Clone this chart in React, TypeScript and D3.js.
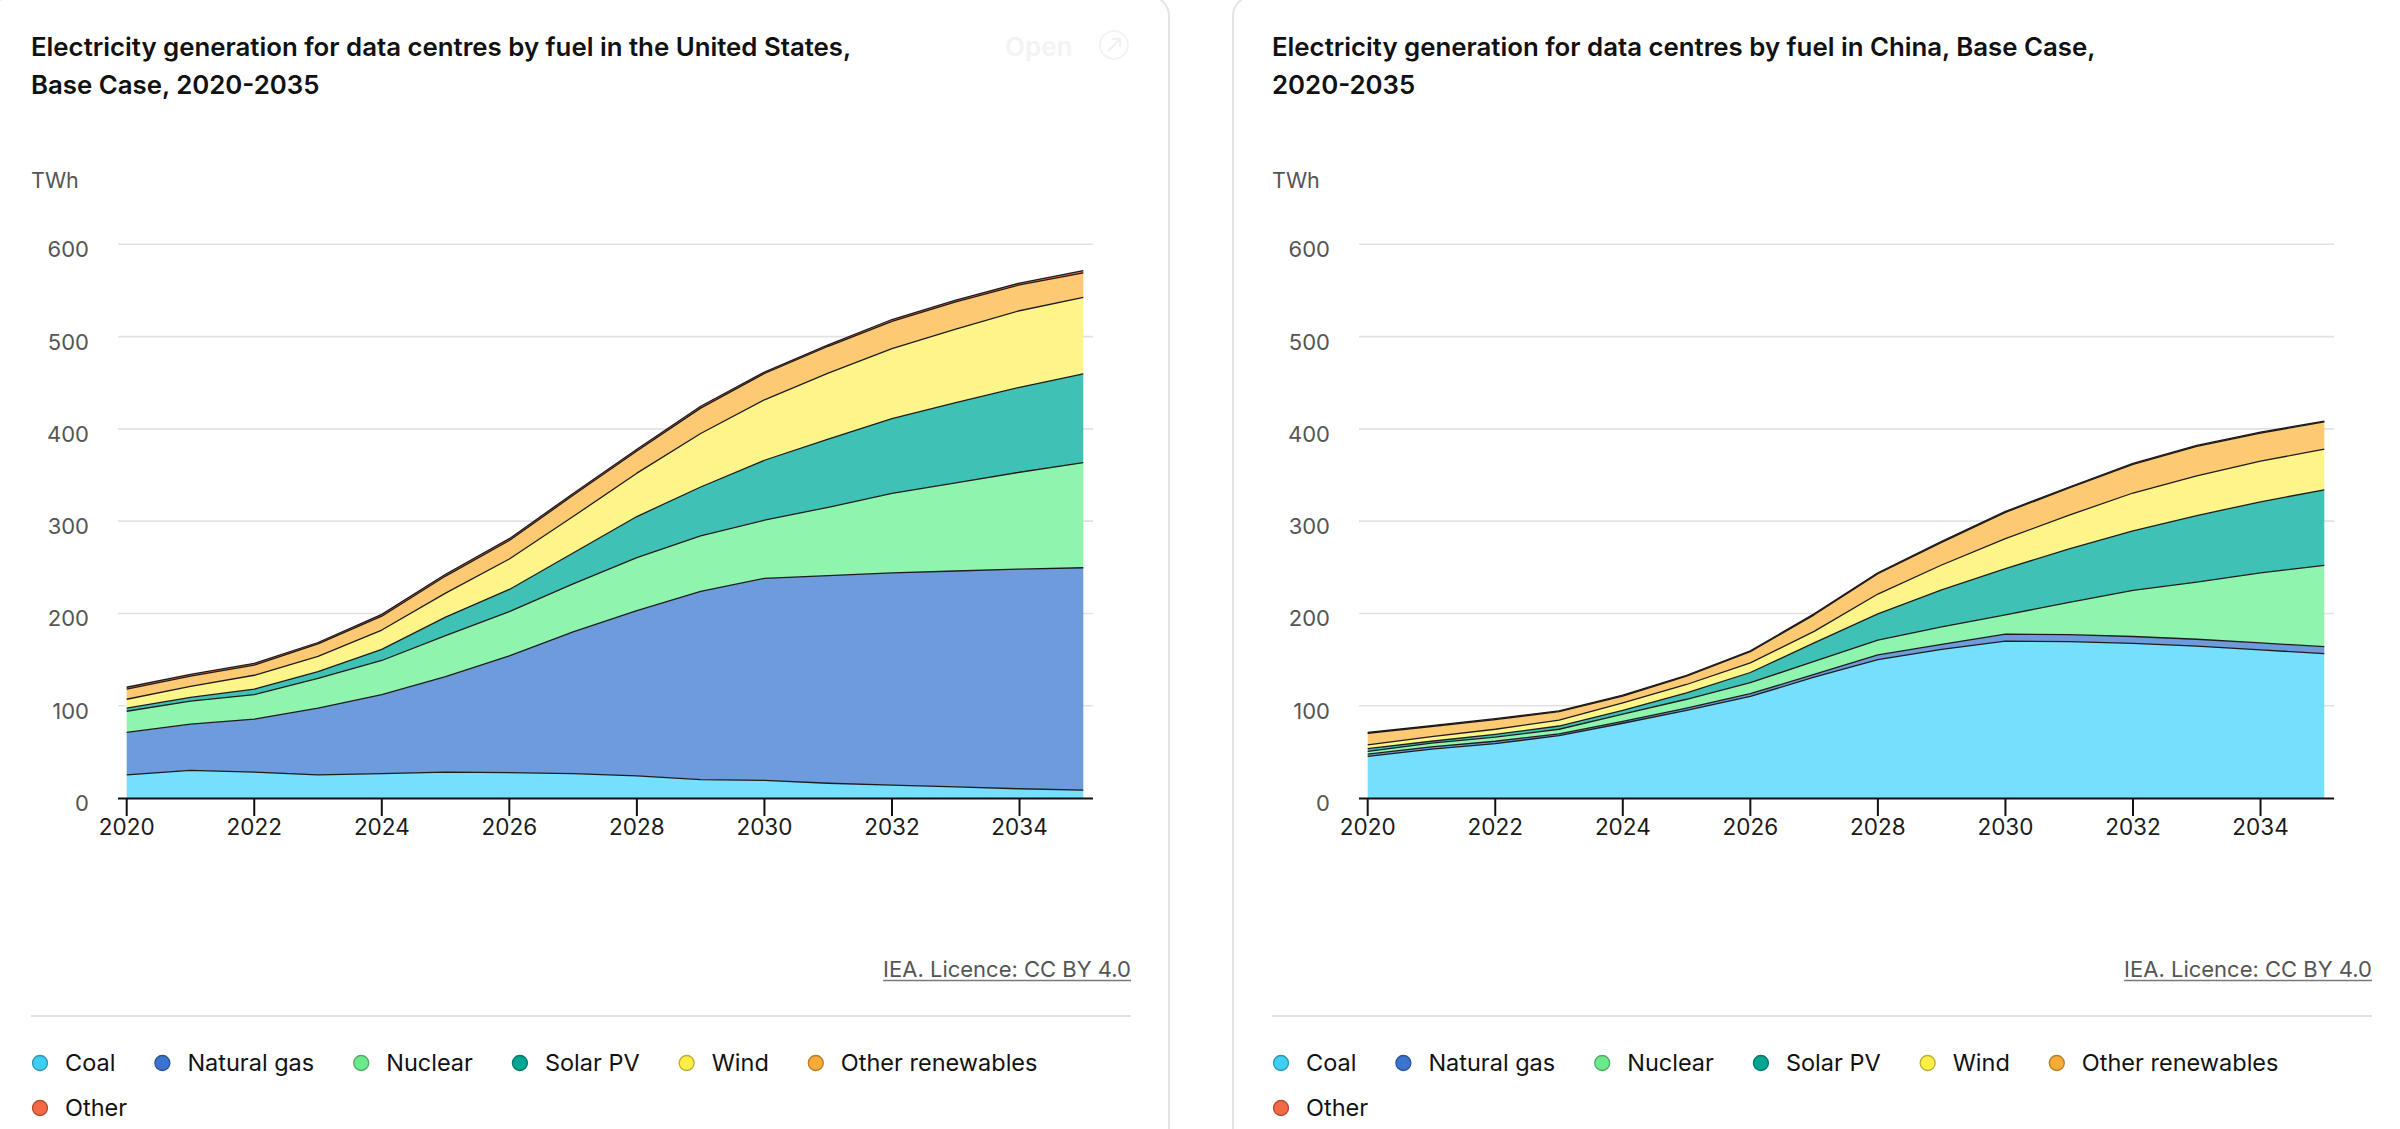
import React, { useEffect, useRef } from 'react';
import * as d3 from 'd3';

// years on the x axis
const years = [2020, 2021, 2022, 2023, 2024, 2025, 2026, 2027, 2028, 2029, 2030, 2031, 2032, 2033, 2034, 2035];
const xTicks = [2020, 2022, 2024, 2026, 2028, 2030, 2032, 2034];
const yTicks = [0, 100, 200, 300, 400, 500, 600];

const fuels = ['Coal', 'Natural gas', 'Nuclear', 'Solar PV', 'Wind', 'Other renewables', 'Other'];
const areaColours = ['#76dffe', '#6e9bdc', '#8ff5ae', '#40c1b6', '#fef58a', '#fdc972', '#f0704e'];
const legendColours = ['#3ecff4', '#3b73d0', '#6bea8b', '#00a693', '#ffee45', '#f8ac37', '#f26a45'];

// United States, TWh
const usCoal = [25, 30, 28, 25, 26.5, 28, 27.5, 26.5, 24, 20, 19, 16, 14, 12, 10, 8.5];
const usGas = [46, 50, 57.5, 72.5, 85.5, 103.5, 126.5, 153.5, 179, 204, 219, 225, 230, 234, 238, 241];
const usNuclear = [23, 25, 26.5, 32, 37, 44.5, 48, 52, 57.5, 60, 63, 74, 86, 95.5, 105, 114];
const usSolar = [3.5, 4, 6, 7.5, 12, 20, 24, 33.5, 44.5, 53, 65, 74, 81, 87, 92, 96];
const usWind = [9.5, 12, 15, 16.5, 21, 26, 33, 39.5, 47, 58, 65.5, 71.5, 76, 79.5, 83, 83];
const usOtherRen = [11, 11, 11, 13.5, 15, 18.5, 20, 23, 24, 27.5, 28.5, 29, 29.5, 29.5, 28, 26.5];
const usOther = [2, 2, 2, 1.5, 2, 2, 2, 2, 2, 2, 1.5, 1.5, 2, 2, 2, 2.5];

// China, TWh
const cnCoal = [45, 53, 59, 67.5, 81, 95, 110, 131, 150, 161, 170, 169.5, 167.5, 164.5, 160.5, 156.5];
const cnGas = [2.5, 2.5, 2.5, 2, 2, 2.5, 3, 3, 5, 5.5, 7.5, 7.5, 7.5, 7.5, 7.5, 7.5];
const cnNuclear = [3, 4, 4.5, 5, 8, 9.5, 12, 14, 16, 19, 21, 35, 50, 62, 76, 88];
const cnSolar = [3, 2, 3, 3.5, 4, 7, 11, 20, 28.5, 40, 50, 58, 64.5, 72, 77, 82];
const cnWind = [4, 5, 5.5, 6.5, 8, 9, 10.5, 12.5, 21.5, 27, 32.5, 36.5, 41, 43, 44, 44];
const cnOtherRen = [12.5, 11, 10.5, 9, 7.5, 9, 12, 18, 22, 24.5, 28.5, 29.5, 31, 32, 30.5, 29.5];
const cnOther = [1, 1, 1, 1, 1, 1, 1, 1, 1, 1, 1, 1, 1, 1, 1, 1];

const FONT = 'Inter, "Noto Sans", sans-serif';

type Row = { year: number; [k: string]: number };

function drawPanel(
    svg: d3.Selection<SVGSVGElement, unknown, null, undefined>,
    ox: number,
    title: [string, string],
    series: number[][],
    showOpen: boolean
) {
    const g = svg.append('g').attr('transform', `translate(${ox},0)`);

    // card
    g.append('rect')
        .attr('x', -8).attr('y', -4)
        .attr('width', 1177).attr('height', 1160)
        .attr('rx', 20)
        .attr('fill', '#fff')
        .attr('stroke', '#e4e4e4')
        .attr('stroke-width', 2);

    // title
    title.forEach((t, i) => {
        g.append('text')
            .attr('x', 31).attr('y', 56 + i * 37.5)
            .attr('font-family', FONT)
            .attr('font-size', 25.8)
            .attr('font-weight', 600)
            .attr('fill', '#111')
            .text(t);
    });

    if (showOpen) {
        g.append('text')
            .attr('x', 1005).attr('y', 56)
            .attr('font-family', FONT).attr('font-size', 26).attr('font-weight', 600)
            .attr('fill', '#f3f3f3')
            .text('Open');
        g.append('circle').attr('cx', 1114).attr('cy', 45).attr('r', 14)
            .attr('fill', 'none').attr('stroke', '#f3f3f3').attr('stroke-width', 2);
        g.append('path').attr('d', 'M1108,51 L1120,39 M1112,39 L1120,39 L1120,47')
            .attr('fill', 'none').attr('stroke', '#f0f0f0').attr('stroke-width', 2);
    }

    const x = d3.scaleLinear().domain([2020, 2035]).range([126.7, 1083.3]);
    const y = d3.scaleLinear().domain([0, 600]).range([798, 244.3]);
    const gridLeft = 118;
    const gridRight = 1093;

    g.append('text')
        .attr('x', 31).attr('y', 188)
        .attr('font-family', FONT).attr('font-size', 21.5)
        .attr('fill', '#555')
        .text('TWh');

    // gridlines + y labels
    yTicks.forEach(t => {
        if (t > 0) {
            g.append('line')
                .attr('x1', gridLeft).attr('x2', gridRight)
                .attr('y1', y(t)).attr('y2', y(t))
                .attr('stroke', '#e2e2e2').attr('stroke-width', 1.6);
        }
        g.append('text')
            .attr('x', 89).attr('y', y(t) + 13)
            .attr('text-anchor', 'end')
            .attr('font-family', FONT).attr('font-size', 22)
            .attr('fill', '#555')
            .text(t);
    });

    const rows: Row[] = years.map((yr, i) => {
        const r: Row = { year: yr };
        fuels.forEach((f, k) => { r[f] = series[k][i]; });
        return r;
    });
    const stacked = d3.stack<Row>().keys(fuels)(rows);

    const area = d3.area<d3.SeriesPoint<Row>>()
        .x(d => x(d.data.year))
        .y0(d => y(d[0]))
        .y1(d => y(d[1]));
    const line = d3.line<d3.SeriesPoint<Row>>()
        .x(d => x(d.data.year))
        .y(d => y(d[1]));

    g.selectAll('.layer')
        .data(stacked)
        .enter()
        .append('path')
        .attr('class', 'layer')
        .attr('d', d => area(d) as string)
        .attr('fill', (_, i) => areaColours[i]);

    g.selectAll('.edge')
        .data(stacked)
        .enter()
        .append('path')
        .attr('class', 'edge')
        .attr('d', d => line(d) as string)
        .attr('fill', 'none')
        .attr('stroke', '#1c1c1c')
        .attr('stroke-width', 1.3)
        .attr('stroke-linejoin', 'round');

    // x axis
    g.append('line')
        .attr('x1', gridLeft).attr('x2', gridRight)
        .attr('y1', 798.5).attr('y2', 798.5)
        .attr('stroke', '#111').attr('stroke-width', 2);
    xTicks.forEach(t => {
        g.append('line')
            .attr('x1', x(t)).attr('x2', x(t))
            .attr('y1', 798).attr('y2', 816)
            .attr('stroke', '#111').attr('stroke-width', 2);
        g.append('text')
            .attr('x', x(t)).attr('y', 835)
            .attr('text-anchor', 'middle')
            .attr('font-family', FONT).attr('font-size', 22.5)
            .attr('fill', '#1a1a1a')
            .text(t);
    });

    // licence
    const lic = g.append('text')
        .attr('x', 1131).attr('y', 977)
        .attr('text-anchor', 'end')
        .attr('font-family', FONT).attr('font-size', 22)
        .attr('fill', '#555')
        .text('IEA. Licence: CC BY 4.0');
    const lw = (lic.node() as SVGTextElement).getComputedTextLength();
    g.append('line')
        .attr('x1', 1131 - lw).attr('x2', 1131)
        .attr('y1', 980.5).attr('y2', 980.5)
        .attr('stroke', '#777').attr('stroke-width', 1.3);

    // separator
    g.append('line')
        .attr('x1', 31).attr('x2', 1131)
        .attr('y1', 1016).attr('y2', 1016)
        .attr('stroke', '#e2e2e2').attr('stroke-width', 2);

    // legend
    let lx = 40;
    let ly = 1063;
    fuels.forEach((f, i) => {
        const item = g.append('g');
        item.append('circle')
            .attr('cx', 0).attr('cy', 0).attr('r', 7.5)
            .attr('fill', legendColours[i])
            .attr('stroke', d3.color(legendColours[i])!.darker(0.9).formatHex())
            .attr('stroke-width', 1.3);
        const t = item.append('text')
            .attr('x', 25).attr('y', 8)
            .attr('font-family', FONT).attr('font-size', 23.5)
            .attr('fill', '#111')
            .text(f);
        const w = (t.node() as SVGTextElement).getComputedTextLength();
        if (lx + 25 + w > 1100) {
            lx = 40;
            ly += 45;
        }
        item.attr('transform', `translate(${lx},${ly})`);
        lx += 25 + w + 47;
    });
}

const App: React.FC = () => {
    const svgRef = useRef<SVGSVGElement>(null);

    useEffect(() => {
        if (!svgRef.current) return;
        const svg = d3.select(svgRef.current);
        svg.selectAll('*').remove();

        svg.append('rect').attr('width', 2400).attr('height', 1129).attr('fill', '#fff');

        drawPanel(
            svg, 0,
            ['Electricity generation for data centres by fuel in the United States,', 'Base Case, 2020-2035'],
            [usCoal, usGas, usNuclear, usSolar, usWind, usOtherRen, usOther],
            true
        );
        drawPanel(
            svg, 1241,
            ['Electricity generation for data centres by fuel in China, Base Case,', '2020-2035'],
            [cnCoal, cnGas, cnNuclear, cnSolar, cnWind, cnOtherRen, cnOther],
            false
        );
    }, []);

    return (
        <svg
            ref={svgRef}
            width={2400}
            height={1129}
            style={{ position: 'absolute', left: 0, top: 0, display: 'block' }}
        />
    );
};

export default App;
